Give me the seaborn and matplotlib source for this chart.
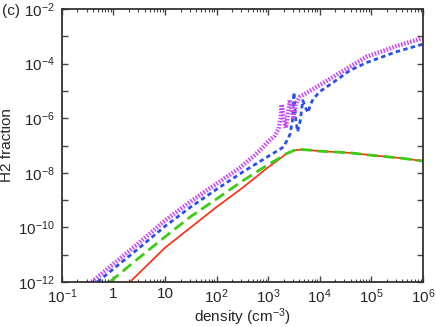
import numpy as np
import matplotlib
matplotlib.use("Agg")
import matplotlib.pyplot as plt
import matplotlib.ticker as mticker
import seaborn as sns

# values (density in cm^-3, H2 fraction)
red_n = [2.1, 5.0, 10, 31.6, 100, 316, 1000, 1585, 2240, 3160, 4470, 6300,
         1e4, 3.8e4, 1e5, 3.5e5, 1e6]
red_f = [1.0e-12, 5.0e-12, 1.8e-11, 1.0e-10, 5.6e-10, 2.8e-9, 1.6e-8, 3.0e-8,
         5.0e-8, 6.6e-8, 7.1e-8, 6.8e-8, 6.2e-8, 5.4e-8, 4.4e-8, 3.5e-8, 2.7e-8]

green_n = [0.85, 3.2, 10, 31.6, 100, 316, 1000, 1585, 2240, 3160, 4470, 6300,
           1e4, 3.8e4, 1e5, 3.5e5, 1e6]
green_f = [1.0e-12, 7.9e-12, 4.5e-11, 2.5e-10, 1.1e-9, 5.0e-9, 2.0e-8, 3.3e-8,
           5.0e-8, 6.6e-8, 7.1e-8, 6.8e-8, 6.2e-8, 5.4e-8, 4.4e-8, 3.5e-8, 2.7e-8]

blue_n = [0.49, 3.2, 10, 31.6, 100, 316, 1000, 2000, 2630, 2950, 3160, 3390,
          3720, 4170, 4680, 5250, 5890, 6610, 7410, 1e4, 1.78e4, 3.8e4, 8.1e4,
          3.16e5, 1e6]
blue_f = [1.0e-12, 1.8e-11, 1.1e-10, 5.6e-10, 2.5e-9, 1.05e-8, 4.0e-8, 8.9e-8,
          2.5e-7, 7.9e-7, 8.9e-6, 1.0e-6, 3.2e-7, 7.9e-7, 4.5e-6, 2.5e-6, 1.6e-6,
          3.2e-6, 5.0e-6, 9.5e-6, 2.0e-5, 5.6e-5, 1.1e-4, 2.8e-4, 5.2e-4]

mag_n = [0.38, 3.2, 10, 31.6, 100, 280, 500, 710, 1000, 1320, 1585, 1740, 1820,
         2000, 2190, 2400, 2630, 2880, 3090, 3390, 4070, 6460, 1.78e4, 8.1e4,
         3.16e5, 1e6]
mag_f = [1.0e-12, 2.8e-11, 1.8e-10, 8.9e-10, 4.0e-9, 1.5e-8, 3.8e-8, 7.1e-8,
         1.4e-7, 2.2e-7, 4.0e-7, 1.0e-6, 3.2e-6, 1.0e-6, 4.4e-7, 1.26e-6, 4.7e-6,
         2.0e-6, 1.1e-6, 3.2e-6, 6.0e-6, 1.0e-5, 3.2e-5, 1.8e-4, 4.5e-4, 8.7e-4]

x_ticks = [1e-1, 1, 10, 1e2, 1e3, 1e4, 1e5, 1e6]
x_labels = ["$10^{-1}$", "1", "10", "$10^{2}$", "$10^{3}$", "$10^{4}$",
            "$10^{5}$", "$10^{6}$"]
y_ticks = [10.0 ** k for k in range(-12, -1)]
y_labels = ["$10^{%d}$" % k if k % 2 == 0 else "" for k in range(-12, -1)]

sns.set_style("ticks")
plt.rcParams["font.family"] = ["Liberation Sans", "DejaVu Sans"]
plt.rcParams["mathtext.fontset"] = "custom"
plt.rcParams["mathtext.rm"] = "Liberation Sans"
plt.rcParams["mathtext.it"] = "Liberation Sans:italic"

fig = plt.figure(figsize=(4.36, 3.27), dpi=100)
ax = fig.add_axes([0.142, 0.138, 0.828, 0.834])

sns.lineplot(x=red_n, y=red_f, ax=ax, color="#ff2a12", lw=1.2, sort=False)
sns.lineplot(x=green_n, y=green_f, ax=ax, color="#3ccc14", lw=2.0, sort=False
             ).lines[-1].set_dashes([4, 2])
sns.lineplot(x=blue_n, y=blue_f, ax=ax, color="#2a4ff0", lw=2.0, sort=False
             ).lines[-1].set_dashes([1.6, 1.2])
sns.lineplot(x=mag_n, y=mag_f, ax=ax, color="#c84cf6", lw=3.2, sort=False
             ).lines[-1].set_dashes([0.35, 0.35])

ax.set_xscale("log")
ax.set_yscale("log")
ax.set_xlim(1e-1, 1e6)
ax.set_ylim(1e-12, 1e-2)

ax.xaxis.set_major_locator(mticker.FixedLocator(x_ticks))
ax.xaxis.set_major_formatter(mticker.FixedFormatter(x_labels))
ax.xaxis.set_minor_locator(mticker.LogLocator(base=10, subs=np.arange(2, 10), numticks=20))
ax.xaxis.set_minor_formatter(mticker.NullFormatter())
ax.yaxis.set_major_locator(mticker.FixedLocator(y_ticks))
ax.yaxis.set_major_formatter(mticker.FixedFormatter(y_labels))
ax.yaxis.set_minor_locator(mticker.NullLocator())

ax.tick_params(which="both", direction="in", top=True, right=True,
               color="#444444", labelsize=11)
ax.tick_params(axis="x", pad=4)
ax.tick_params(axis="y", pad=5)
ax.tick_params(which="major", length=4, width=1)
ax.tick_params(which="minor", length=2, width=0.8)
for s in ax.spines.values():
    s.set_color("#333333")
    s.set_linewidth(1.3)

ax.set_xlabel("density (cm$^{-3}$)", fontsize=11, labelpad=0)
ax.set_ylabel("H2 fraction", fontsize=11, labelpad=3)
fig.text(0.005, 0.965, "(c)", fontsize=11, ha="left", va="center")

fig.savefig("out.png", dpi=100)
